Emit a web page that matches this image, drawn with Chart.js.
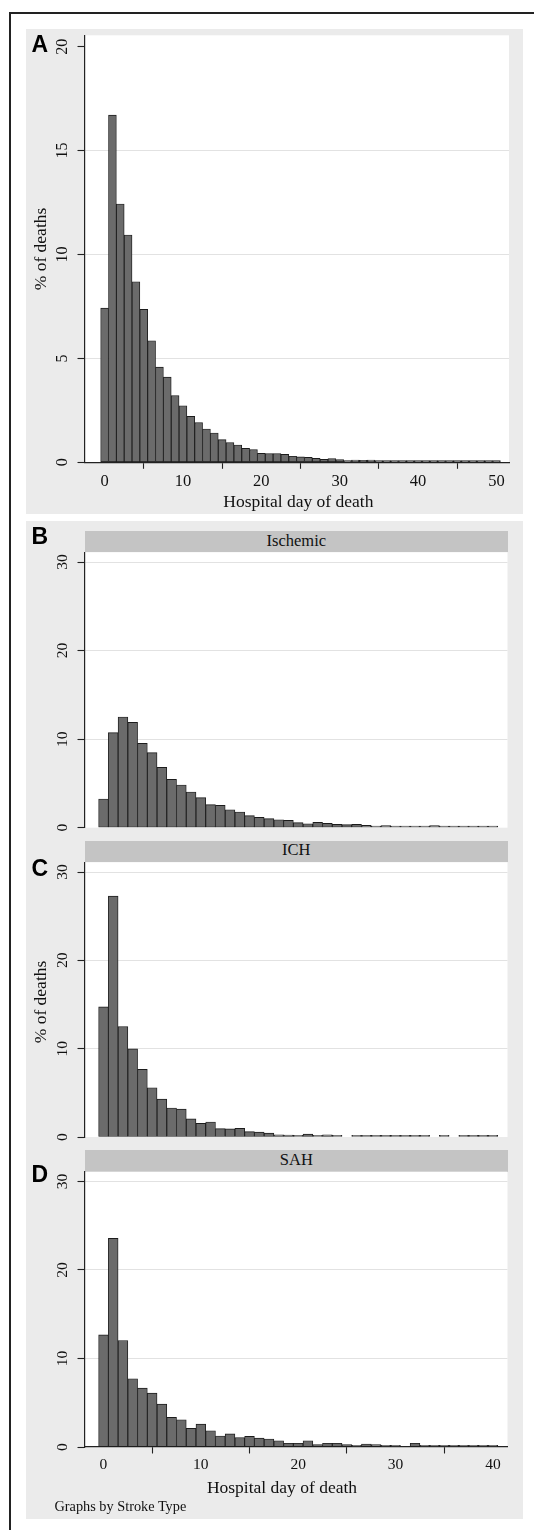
<!DOCTYPE html>
<html><head><meta charset="utf-8">
<script src="https://cdn.jsdelivr.net/npm/chart.js@4"></script>
<style>
html,body{margin:0;padding:0;background:#fff;}
#page{position:relative;width:534px;height:1530px;overflow:hidden;background:#fff;font-family:"Liberation Serif","Times New Roman",serif;color:#111;}
.abs{position:absolute;white-space:nowrap;}
canvas{position:absolute;}
</style></head>
<body><div id="page"></div>
<script>
// ---------------- DATA ----------------
const daysA = [0,1,2,3,4,5,6,7,8,9,10,11,12,13,14,15,16,17,18,19,20,21,22,23,24,25,26,27,28,29,30,31,32,33,34,35,36,37,38,39,40,41,42,43,44,45,46,47,48,49,50];
const pctAll = [7.42,16.71,12.43,10.94,8.69,7.36,5.85,4.58,4.10,3.21,
                2.72,2.21,1.91,1.60,1.41,1.09,0.95,0.83,0.67,0.61,
                0.43,0.42,0.42,0.38,0.29,0.26,0.24,0.19,0.14,0.18,
                0.13,0.08,0.11,0.10,0.11,0.08,0.06,0.06,0.08,0.06,
                0.08,0.04,0.04,0.03,0.03,0.03,0.03,0.03,0.03,0.05,0.05];
const daysBy = [0,1,2,3,4,5,6,7,8,9,10,11,12,13,14,15,16,17,18,19,20,21,22,23,24,25,26,27,28,29,30,31,32,33,34,35,36,37,38,39,40];
const pctIschemic = [3.24,10.73,12.5,11.9,9.53,8.47,6.82,5.46,4.82,4.03,
                     3.39,2.6,2.52,2.03,1.77,1.36,1.17,1.02,0.9,0.83,
                     0.57,0.45,0.6,0.49,0.38,0.34,0.38,0.26,0.19,0.23,
                     0.19,0.11,0.15,0.15,0.23,0.15,0.11,0.15,0.11,0.11,0.11];
const pctICH = [14.73,27.27,12.5,9.98,7.65,5.57,4.29,3.28,3.16,2.05,
                1.54,1.7,0.94,0.92,0.98,0.6,0.55,0.43,0.25,0.23,
                0.15,0.32,0.19,0.25,0.11,null,0.15,0.19,0.13,0.17,
                0.11,0.1,0.1,0.1,null,0.1,null,0.1,0.1,0.1,0.1];
const pctSAH = [12.67,23.57,12.03,7.71,6.65,6.09,4.85,3.35,3.08,2.1,
                2.59,1.84,1.24,1.48,1.06,1.2,1.0,0.9,0.7,0.42,
                0.42,0.7,0.28,0.42,0.42,0.28,0.18,0.34,0.26,0.15,
                0.06,null,0.42,0.13,0.05,0.05,0.05,0.05,0.05,0.05,0.05];
const xTicksA = [0,10,20,30,40,50];
const xTickLabelsA = ['0','10','20','30','40','50'];
const yTicksA = [0,5,10,15,20];
const yTickLabelsA = ['0','5','10','15','20'];
const xTicksBy = [0,10,20,30,40];
const xTickLabelsBy = ['0','10','20','30','40'];
const yTicksBy = [0,10,20,30];
const yTickLabelsBy = ['0','10','20','30'];
const strokeTypes = ['Ischemic','ICH','SAH'];
const panelLetters = ['A','B','C','D'];
const xTitle = 'Hospital day of death';
const yTitle = '% of deaths';
const noteText = 'Graphs by Stroke Type';

// ---------------- LAYOUT HELPERS ----------------
const page = document.getElementById('page');
function box(l,t,w,h,style){const d=document.createElement('div');d.className='abs';Object.assign(d.style,{left:l+'px',top:t+'px',width:w+'px',height:h+'px'},style||{});page.appendChild(d);return d;}
function txt(str,x,baseline,size,opt){
  opt=opt||{};
  const fam=opt.sans?'"Liberation Sans",Arial,sans-serif':'"Liberation Serif","Times New Roman",serif';
  const k=opt.sans?0.3465:0.3375;
  const d=document.createElement('div');d.className='abs';d.textContent=str;
  Object.assign(d.style,{left:x+'px',top:(baseline-k*size)+'px',lineHeight:'0',fontSize:size+'px',fontFamily:fam,fontWeight:opt.bold?'bold':'normal',color:opt.color||'#111'});
  if(opt.center) d.style.transform='translateX(-50%)';
  page.appendChild(d);return d;
}
function vtxt(str,cx,cy,size){
  const d=document.createElement('div');d.className='abs';d.textContent=str;
  Object.assign(d.style,{left:cx+'px',top:cy+'px',lineHeight:'1',fontSize:size+'px',fontFamily:'"Liberation Serif","Times New Roman",serif',color:'#111',transform:'translate(-50%,-50%) rotate(-90deg)'});
  page.appendChild(d);return d;
}

// frame and backgrounds
box(9,12,560,1540,{borderLeft:'2px solid #222',borderTop:'2px solid #222',boxSizing:'border-box'});
box(26,29.3,497,484.7,{background:'#ebebeb'});
box(26,520.7,497,998.6,{background:'#ebebeb'});
// strips
const strips=[[530.7,546.3],[840.7,856.0],[1150,1165.3]];
strips.forEach((s,i)=>{box(85,s[0],422.5,21.6,{background:'#c4c4c4'});txt(strokeTypes[i],296.3,s[1],16.5,{center:true});});

// ---------------- CHARTS ----------------
const whiteArea={id:'whiteArea',beforeDraw(chart){const {ctx,chartArea:a}=chart;ctx.save();ctx.fillStyle='#ffffff';ctx.fillRect(a.left,a.top,a.right-a.left,a.bottom-a.top);ctx.restore();}};

function makePanel(p){
  const c=document.createElement('canvas');
  c.width=p.W;c.height=p.H;c.style.left=p.left+'px';c.style.top=p.top+'px';c.style.width=p.W+'px';c.style.height=p.H+'px';
  page.appendChild(c);
  const pts=[];
  p.days.forEach((d,i)=>{if(p.values[i]!==null)pts.push({x:d,y:p.values[i]});});
  new Chart(c,{
    type:'bar',
    data:{datasets:[{data:pts,backgroundColor:'#6b6b6b',borderColor:'#1c1c1c',borderWidth:0.9,borderSkipped:false,
      barPercentage:1,categoryPercentage:1,minBarLength:1.6}]},
    options:{
      responsive:false,animation:false,devicePixelRatio:1,
      layout:{padding:{left:0,top:p.padTop,right:p.padRight,bottom:p.padBottom}},
      plugins:{legend:{display:false},tooltip:{enabled:false}},
      scales:{
        x:{type:'linear',min:p.xMin,max:p.xMax,display:p.xShow,offset:false,
          afterBuildTicks:s=>{s.ticks=p.xTicks.map(v=>({value:v}));},
          afterFit:s=>{s.height=p.xHeight;s.paddingLeft=0;s.paddingRight=0;},
          grid:{drawOnChartArea:false,drawTicks:true,tickLength:6.5,tickColor:'#222',tickWidth:1.1},
          border:{display:true,color:'#222',width:1.2},
          ticks:{autoSkip:false,maxRotation:0,minRotation:0,padding:2.5,color:'#111',
            font:{family:'"Liberation Serif"',size:p.xFont},
            callback:(v,i)=>p.xLabels[i]}
        },
        y:{type:'linear',min:0,max:p.yMax,
          afterBuildTicks:s=>{s.ticks=p.yTicks.map(v=>({value:v}));},
          afterFit:s=>{s.width=p.yWidth;s.paddingTop=0;s.paddingBottom=0;},
          grid:{color:ctx=>(ctx.tick&&p.gridVals.includes(ctx.tick.value))?'#e2e2e2':'rgba(0,0,0,0)',lineWidth:1,
            drawTicks:true,tickLength:7.5,tickColor:'#222',tickWidth:1.1},
          border:{display:true,color:'#222',width:1.2},
          ticks:{autoSkip:false,minRotation:90,maxRotation:90,crossAlign:'center',padding:6.5,color:'#111',
            font:{family:'"Liberation Serif"',size:p.yFont},
            callback:(v,i)=>p.yLabels[i]}
        }
      }
    },
    plugins:[whiteArea]
  });
}

// Panel A
makePanel({left:26,top:29,W:497,H:485,padTop:6.3,padRight:14,padBottom:0,yWidth:59,xHeight:51.7,xShow:true,
  days:daysA,values:pctAll,xMin:-2.5,xMax:51.6,xTicks:xTicksA,xLabels:xTickLabelsA,
  yMax:20.55,yTicks:yTicksA,yLabels:yTickLabelsA,gridVals:[5,10,15],xFont:16.5,yFont:16});
// Panel B
makePanel({left:26,top:545,W:497,H:290,padTop:7.3,padRight:15.5,padBottom:7.3,yWidth:59,xHeight:0,xShow:false,
  days:daysBy,values:pctIschemic,xMin:-1.9,xMax:41.5,xTicks:xTicksBy,xLabels:xTickLabelsBy,
  yMax:31.1,yTicks:yTicksBy,yLabels:yTickLabelsBy,gridVals:[10,20,30],xFont:15.5,yFont:15.5});
// Panel C
makePanel({left:26,top:855,W:497,H:290,padTop:7.3,padRight:15.5,padBottom:8,yWidth:59,xHeight:0,xShow:false,
  days:daysBy,values:pctICH,xMin:-1.9,xMax:41.5,xTicks:xTicksBy,xLabels:xTickLabelsBy,
  yMax:31.1,yTicks:yTicksBy,yLabels:yTickLabelsBy,gridVals:[10,20,30],xFont:15.5,yFont:15.5});
// Panel D
makePanel({left:26,top:1164,W:497,H:316,padTop:7.7,padRight:15.5,padBottom:0,yWidth:59,xHeight:33,xShow:true,
  days:daysBy,values:pctSAH,xMin:-1.9,xMax:41.5,xTicks:xTicksBy,xLabels:xTickLabelsBy,
  yMax:31.1,yTicks:yTicksBy,yLabels:yTickLabelsBy,gridVals:[10,20,30],xFont:15.5,yFont:15.5});

// titles and labels
txt(xTitle,298.4,507,17.5,{center:true});
txt(xTitle,282,1493.3,17.5,{center:true});
vtxt(yTitle,41,249,17.5);
vtxt(yTitle,41,1001.7,17.5);
txt(noteText,54.5,1511,14.3);
const letterBase=[52,544,875.7,1182];
panelLetters.forEach((L,i)=>txt(L,31.5,letterBase[i],23,{sans:true,bold:true,color:'#000'}));
</script>
</body></html>
